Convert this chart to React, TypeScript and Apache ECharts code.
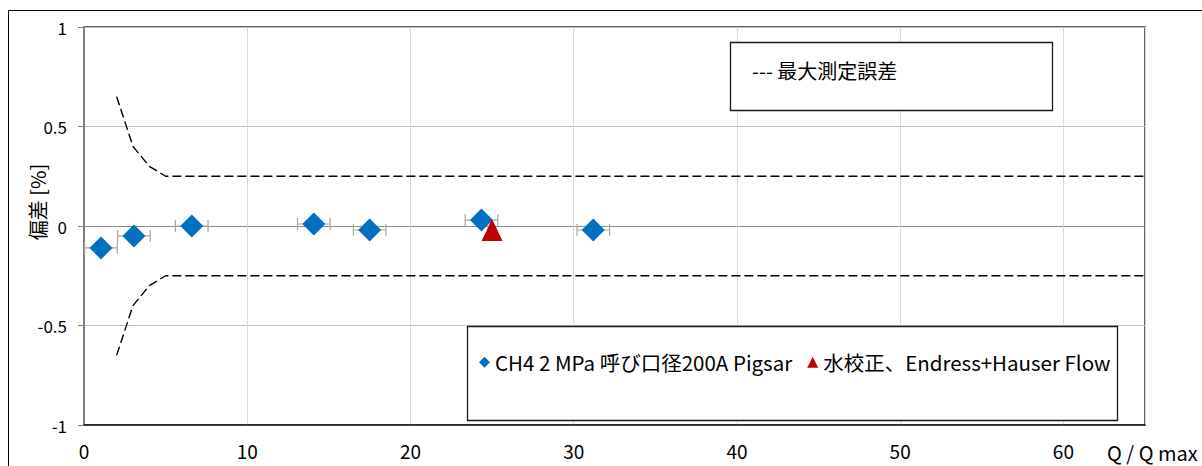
import React, { useEffect, useRef } from "react";
import * as echarts from "echarts";

// Gas calibration points (Q / Q max, deviation %)
const qRatio = [1.04, 3.06, 6.6, 14.08, 17.5, 24.35, 31.2];
const deviation = [-0.11, -0.05, 0.0, 0.01, -0.02, 0.03, -0.02];
const qError = [1, 1, 1, 1, 1, 1, 1];

// Water calibration point
const waterQ = [25.0];
const waterDev = [-0.02];

// Maximum measured error envelope
const limitQ = [2, 3, 4, 5, 65];
const upperLimit = [0.65, 0.4, 0.3, 0.25, 0.25];
const lowerLimit = [-0.65, -0.4, -0.3, -0.25, -0.25];

const yTicks = { min: -1, max: 1, interval: 0.5 };
const xTicks = { min: 0, max: 65, interval: 10 };

const gasName = "CH4 2 MPa 呼び口径200A Pigsar";
const waterName = "水校正、Endress+Hauser Flow";
const limitName = "最大測定誤差";

const FONT = '"Noto Sans CJK JP", "Noto Sans", sans-serif';

export default function App() {
  const ref = useRef<HTMLDivElement>(null);

  useEffect(() => {
    if (!ref.current) return;
    const chart = echarts.init(ref.current, undefined, { renderer: "svg" });

    const gasData = qRatio.map((q, i) => [q, deviation[i]]);
    const errData = qRatio.map((q, i) => [q, deviation[i], qError[i]]);
    const waterData = waterQ.map((q, i) => [q, waterDev[i]]);
    const upperData = limitQ.map((q, i) => [q, upperLimit[i]]);
    const lowerData = limitQ.map((q, i) => [q, lowerLimit[i]]);

    const option: any = {
      animation: false,
      backgroundColor: "#ffffff",
      textStyle: { fontFamily: FONT },
      grid: {
        left: 84,
        top: 27,
        right: 57,
        bottom: 41,
        show: true,
        borderColor: "#303030",
        borderWidth: 1.5,
        containLabel: false,
      },
      xAxis: {
        type: "value",
        min: xTicks.min,
        max: xTicks.max,
        interval: xTicks.interval,
        axisLine: { show: true, onZero: false, lineStyle: { color: "#1a1a1a", width: 1.5 } },
        axisTick: { show: false },
        axisLabel: {
          showMaxLabel: false,
          margin: 16,
          fontSize: 19,
          color: "#000",
          fontFamily: FONT,
        },
        splitLine: { show: true, lineStyle: { color: "#d9d9d9", width: 1 } },
      },
      yAxis: {
        type: "value",
        min: yTicks.min,
        max: yTicks.max,
        interval: yTicks.interval,
        axisLine: { show: true, onZero: false, lineStyle: { color: "#7f7f7f", width: 2 } },
        axisTick: { show: true, length: 6, lineStyle: { color: "#7f7f7f" } },
        axisLabel: {
          margin: 17,
          fontSize: 17,
          color: "#000",
          fontFamily: FONT,
          formatter: (v: number) => String(v),
        },
        splitLine: {
          show: true,
          lineStyle: {
            color: ["#bfbfbf", "#bfbfbf", "#8c8c8c", "#bfbfbf", "#bfbfbf"],
            width: 1.2,
          },
        },
      },
      legend: [
        {
          data: [limitName],
          icon: "none",
          formatter: "--- {name}",
          left: 747,
          top: 60,
          itemWidth: 0,
          itemHeight: 0,
          padding: 0,
          selectedMode: false,
          z: 60,
          textStyle: { fontSize: 20, color: "#000", fontFamily: FONT },
        },
        {
          data: [
            { name: gasName, icon: "diamond" },
            { name: waterName, icon: "triangle" },
          ],
          left: 479,
          top: 352,
          itemWidth: 11,
          itemHeight: 11,
          itemGap: 15,
          padding: 0,
          selectedMode: false,
          z: 60,
          textStyle: { fontSize: 20.5, color: "#000", fontFamily: FONT },
        },
      ],
      graphic: [
        {
          type: "rect",
          z: 0,
          silent: true,
          shape: { x: 8.5, y: 10.5, width: 1400, height: 600 },
          style: { fill: "none", stroke: "#000", lineWidth: 1 },
        },
        {
          type: "rect",
          z: 50,
          silent: true,
          shape: { x: 730.5, y: 42.5, width: 322, height: 68 },
          style: { fill: "#fff", stroke: "#1a1a1a", lineWidth: 1.3 },
        },
        {
          type: "rect",
          z: 50,
          silent: true,
          shape: { x: 467.5, y: 326.5, width: 650, height: 94 },
          style: { fill: "#fff", stroke: "#1a1a1a", lineWidth: 1.3 },
        },
        {
          type: "text",
          z: 50,
          silent: true,
          x: 1107,
          y: 452,
          style: {
            text: "Q / Q max",
            fontSize: 20,
            fontFamily: FONT,
            fill: "#000",
            verticalAlign: "middle",
            align: "left",
          },
        },
        {
          type: "text",
          z: 50,
          silent: true,
          x: 37,
          y: 202,
          rotation: Math.PI / 2,
          style: {
            text: "偏差 [%]",
            fontSize: 20,
            fontFamily: FONT,
            fill: "#000",
            verticalAlign: "middle",
            align: "center",
          },
        },
      ],
      series: [
        {
          name: limitName,
          type: "line",
          data: upperData,
          symbol: "none",
          lineStyle: { color: "#000", width: 1.4, type: [9, 4] },
          itemStyle: { color: "#000" },
          z: 3,
        },
        {
          name: limitName,
          type: "line",
          data: lowerData,
          symbol: "none",
          lineStyle: { color: "#000", width: 1.4, type: [9, 4] },
          itemStyle: { color: "#000" },
          z: 3,
        },
        {
          name: "errorBars",
          type: "custom",
          data: errData,
          z: 4,
          renderItem: (params: any, api: any) => {
            const x = api.value(0);
            const y = api.value(1);
            const e = api.value(2);
            const a = api.coord([x - e, y]);
            const b = api.coord([x + e, y]);
            const style = { stroke: "#a6a6a6", lineWidth: 1.2 };
            return {
              type: "group",
              children: [
                { type: "line", shape: { x1: a[0], y1: a[1], x2: b[0], y2: b[1] }, style },
                { type: "line", shape: { x1: a[0], y1: a[1] - 6, x2: a[0], y2: a[1] + 6 }, style },
                { type: "line", shape: { x1: b[0], y1: b[1] - 6, x2: b[0], y2: b[1] + 6 }, style },
              ],
            };
          },
          encode: { x: 0, y: 1 },
        },
        {
          name: gasName,
          type: "scatter",
          data: gasData,
          symbol: "diamond",
          symbolSize: [23, 23],
          itemStyle: { color: "#0070c0", opacity: 1 },
          z: 5,
        },
        {
          name: waterName,
          type: "scatter",
          data: waterData,
          symbol: "triangle",
          symbolSize: [21, 22],
          itemStyle: { color: "#c00000", opacity: 1 },
          z: 6,
        },
      ],
    };

    chart.setOption(option);
    return () => chart.dispose();
  }, []);

  return (
    <div
      ref={ref}
      style={{ position: "fixed", left: 0, top: 0, width: 1202, height: 466, background: "#fff" }}
    />
  );
}
